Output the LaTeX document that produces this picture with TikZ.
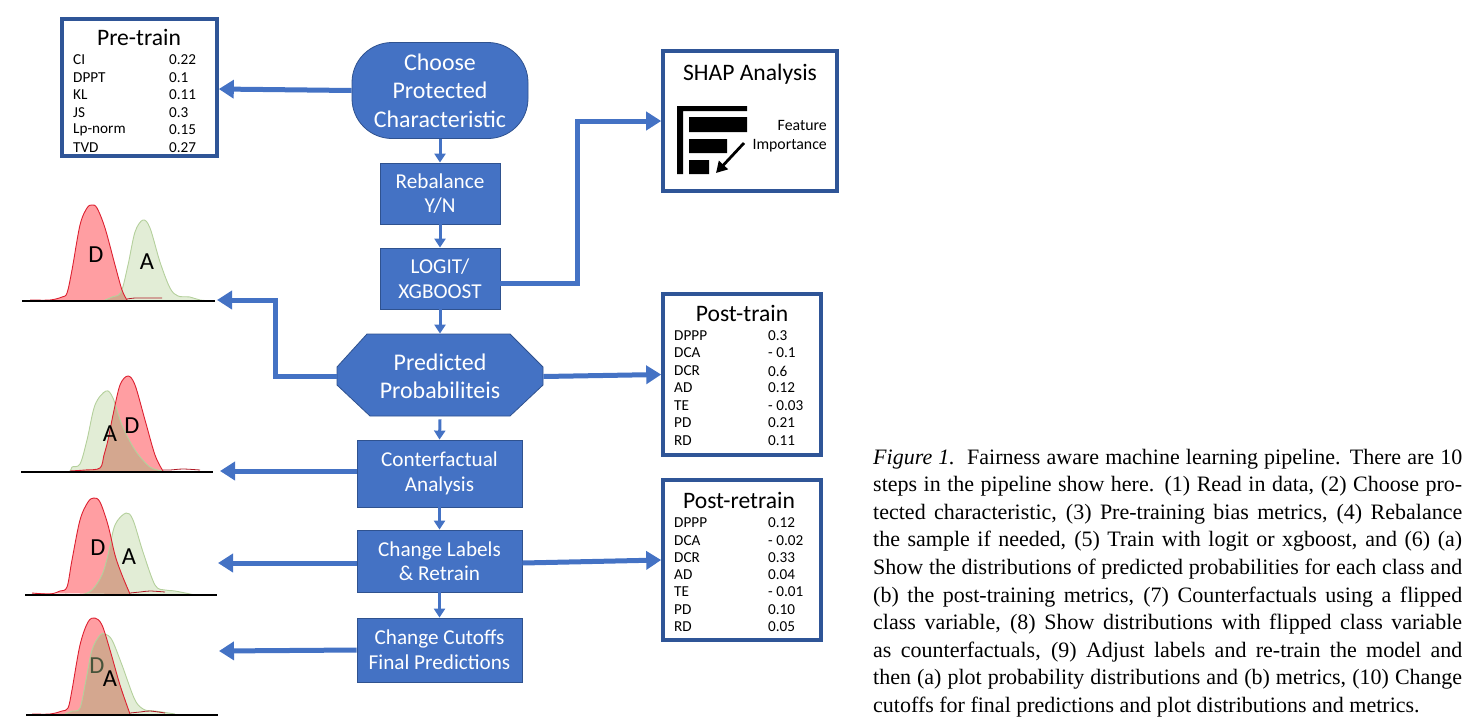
\documentclass[tikz,border=0pt]{standalone}
\usepackage{fontspec}
\setmainfont{Carlito}
\newfontfamily\capfont{Liberation Serif}
\usetikzlibrary{arrows.meta}
\definecolor{flow}{HTML}{4472C4}
\definecolor{flowedge}{HTML}{2F528F}
\definecolor{boxedge}{HTML}{2F5597}
\definecolor{redfill}{HTML}{FF9EA2}
\definecolor{redline}{HTML}{DC2030}
\definecolor{greenfill}{HTML}{E2EDD6}
\definecolor{greenline}{HTML}{B4D09C}
\definecolor{overlapfill}{HTML}{D4A78F}
\definecolor{dimD}{HTML}{46533A}
\tikzset{
  x=1pt,y=-1pt,
  flowbox/.style={rectangle,fill=flow,draw=flowedge,line width=.8pt,text=white,align=center,inner sep=0pt,font=\fontsize{21.2}{24.5}\selectfont},
  flowbig/.style={flowbox,font=\fontsize{23.9}{28.5}\selectfont},
  metricbox/.style={rectangle,draw=boxedge,line width=3.6pt,fill=white,inner sep=0pt},
  boxtitle/.style={inner sep=0pt,font=\fontsize{23.6}{25}\selectfont},
  metric/.style={anchor=west,inner sep=0pt,font=\fontsize{15.2}{16}\selectfont},
  thinarrow/.style={draw=flow,line width=3pt,-{Triangle[length=9pt,width=11pt]}},
  fatarrow/.style={draw=flow,line width=5pt,-{Triangle[length=15pt,width=18pt]}},
  redtail/.style={draw=redline!80!black,line width=.8pt},
  axisline/.style={draw=black,line width=1.8pt},
  curvelabel/.style={inner sep=0pt,font=\fontsize{24.5}{26}\selectfont},
  capline/.style={anchor=base west,inner sep=0pt,font=\capfont\fontsize{22}{24}\selectfont},
}
\newcommand{\capjust}[1]{\makebox[589pt][s]{#1}}
\newcommand{\distcurves}[2]{%
  \fill[redfill] #1;
  \fill[greenfill] #2;
  \begin{scope}\clip #1; \fill[overlapfill] #2; \end{scope}
  \draw[greenline,line width=.9pt] #2;
  \draw[redline,line width=.9pt] #1;
}
\begin{document}
\begin{tikzpicture}
\useasboundingbox (0,0) rectangle (1479,726);
% --- distributions
\distcurves{plot[smooth,tension=.55] coordinates {(30,300)(50,300)(62,297)(67,293)(72,270)(80,225)(87,208)(92,205)(97,208)(105,228)(115,265)(122,290)(127,300)}}
  {plot[smooth,tension=.55] coordinates {(105,300)(112,297)(121,292)(128,265)(135,232)(143,220)(150,228)(160,262)(170,288)(178,296)(190,297)(200,300)(215,301)}}
\draw[axisline] (22,301) -- (215,301);
\draw[redtail] plot[smooth] coordinates {(127,299)(135,298)(145,298)(162,298)};
\node[curvelabel] (d1) at (96,255) {D};
\node[curvelabel] (a1) at (147,262) {A};

\distcurves{plot[smooth,tension=.55] coordinates {(70,471)(85,470)(100,468)(104,455)(108,440)(113,415)(120,385)(128,376)(135,385)(145,420)(155,455)(163,471)}}
  {plot[smooth,tension=.55] coordinates {(45,472)(68,472)(72,467)(80,464)(87,440)(95,405)(106,391)(113,398)(122,425)(135,450)(150,467)(163,471)}}
\draw[axisline] (21,472) -- (213,472);
\draw[redtail] plot[smooth] coordinates {(163,470)(170,470)(183,469)(200,470)};
\node[curvelabel] (d2) at (132,426) {D};
\node[curvelabel] (a2) at (110,434) {A};

\distcurves{plot[smooth,tension=.55] coordinates {(32,593)(50,594)(60,591)(67,587)(72,560)(80,520)(88,502)(94,498)(100,502)(108,525)(115,555)(122,575)(130,594)}}
  {plot[smooth,tension=.55] coordinates {(65,594)(80,595)(92,590)(102,575)(108,555)(115,525)(126,513)(133,520)(143,552)(155,585)(165,590)(175,591)(195,595)}}
\draw[axisline] (25,595) -- (217,595);
\draw[redtail] plot[smooth] coordinates {(130,593)(140,592)(150,591)(165,592)};
\node[curvelabel] (d3) at (98,548) {D};
\node[curvelabel] (a3) at (129,557) {A};

\distcurves{plot[smooth,tension=.55] coordinates {(32,714)(50,714)(62,711)(68,708)(72,690)(80,645)(88,622)(95,618)(102,625)(110,650)(120,685)(130,714)}}
  {plot[smooth,tension=.55] coordinates {(65,714)(72,711)(80,708)(86,680)(92,650)(100,635)(105,634)(112,640)(122,665)(135,700)(145,710)(155,711)(175,714)}}
\draw[axisline] (26,715) -- (218,715);
\draw[redtail] plot[smooth] coordinates {(130,713)(140,712)(150,711)(165,713)};
\node[curvelabel,text=dimD] (d4) at (97,666) {D};
\node[curvelabel] (a4) at (110,679) {A};
% --- flow nodes
\node[flowbig,rounded corners=40pt,minimum width=176pt,minimum height=96pt] (choose) at (440,90.5) {Choose\\Protected\\Characteristic};
\node[flowbox,minimum width=120pt,minimum height=61pt] (rebalance) at (440,193.5) {Rebalance\\Y/N};
\node[flowbox,minimum width=120pt,minimum height=61pt] (logit) at (440,278.5) {LOGIT/\\XGBOOST};
\filldraw[fill=flow,draw=flowedge,line width=.8pt] (367,334) -- (510,334) -- (543,367) -- (543,385) -- (510,416) -- (370,416) -- (337,385) -- (337,367) -- cycle;
\node[flowbig,fill=none,draw=none,minimum width=206pt,minimum height=85pt] (pred) at (440,376.5) {Predicted\\Probabiliteis};
\node[flowbox,minimum width=165pt,minimum height=67pt] (counter) at (439.5,473.5) {Conterfactual\\Analysis};
\node[flowbox,minimum width=165pt,minimum height=62pt] (labels) at (439.5,561) {Change Labels\\\& Retrain};
\node[flowbox,minimum width=165pt,minimum height=64pt,font=\fontsize{21.2}{25}\selectfont] (cutoffs) at (439.5,650) {Change Cutoffs\\Final Predictions};
% --- metric boxes
\node[metricbox,minimum width=155pt,minimum height=137pt] (pretrain) at (139.5,87.5) {};
\node[boxtitle] (pretitle) at (139,37) {Pre-train};
\node[metric] (p1) at (73,60) {CI};      \node[metric] (pv1) at (169,60) {0.22};
\node[metric] (p2) at (73,78) {DPPT};    \node[metric] (pv2) at (169,78) {0.1};
\node[metric] (p3) at (73,95) {KL};      \node[metric] (pv3) at (169,95) {0.11};
\node[metric] (p4) at (73,113) {JS};     \node[metric] (pv4) at (169,113) {0.3};
\node[metric] (p5) at (73,130) {Lp-norm};\node[metric] (pv5) at (169,130) {0.15};
\node[metric] (p6) at (73,148) {TVD};    \node[metric] (pv6) at (169,148) {0.27};

\node[metricbox,minimum width=174pt,minimum height=140pt] (shap) at (750,121) {};
\node[boxtitle] (shaptitle) at (750,74) {SHAP Analysis};
\fill[black] (677,106) rectangle (747,111) (677,106) rectangle (683,174)
  (689,117) rectangle (747,132) (689,139) rectangle (727,153) (689,160) rectangle (709,174);
\draw[black,line width=2.8pt,-{Triangle[length=11pt,width=12pt]}] (744,143) -- (716,173);
\node[inner sep=0pt,align=right,anchor=east,font=\fontsize{15.8}{19.5}\selectfont] (feat) at (827,136) {Feature\\Importance};

\node[metricbox,minimum width=158pt,minimum height=161pt] (posttrain) at (742,374.5) {};
\node[boxtitle] (pttitle) at (742,313) {Post-train};
\node[metric] (t1) at (674,336) {DPPP}; \node[metric] (tv1) at (768,336) {0.3};
\node[metric] (t2) at (674,353) {DCA};  \node[metric] (tv2) at (768,353) {- 0.1};
\node[metric] (t3) at (674,371) {DCR};  \node[metric] (tv3) at (768,371) {0.6};
\node[metric] (t4) at (674,388) {AD};   \node[metric] (tv4) at (768,388) {0.12};
\node[metric] (t5) at (674,406) {TE};   \node[metric] (tv5) at (768,406) {- 0.03};
\node[metric] (t6) at (674,423) {PD};   \node[metric] (tv6) at (768,423) {0.21};
\node[metric] (t7) at (674,441) {RD};   \node[metric] (tv7) at (768,441) {0.11};

\node[metricbox,minimum width=158pt,minimum height=160pt] (postre) at (742,560) {};
\node[boxtitle] (prtitle) at (739,500) {Post-retrain};
\node[metric] (r1) at (674,523) {DPPP}; \node[metric] (rv1) at (768,523) {0.12};
\node[metric] (r2) at (674,541) {DCA};  \node[metric] (rv2) at (768,541) {- 0.02};
\node[metric] (r3) at (674,558) {DCR};  \node[metric] (rv3) at (768,558) {0.33};
\node[metric] (r4) at (674,575) {AD};   \node[metric] (rv4) at (768,575) {0.04};
\node[metric] (r5) at (674,592) {TE};   \node[metric] (rv5) at (768,592) {- 0.01};
\node[metric] (r6) at (674,610) {PD};   \node[metric] (rv6) at (768,610) {0.10};
\node[metric] (r7) at (674,627) {RD};   \node[metric] (rv7) at (768,627) {0.05};
% --- connector ends
\coordinate (chart1) at (217,300);
\coordinate (chart2) at (220,471);
\coordinate (chart3) at (218,563);
\coordinate (chart4) at (219,651);
\coordinate (bendshap) at (577,283);
\coordinate (bendchart) at (275,300);
% --- connectors
\draw[thinarrow] (choose.south) -- (rebalance.north);
\draw[thinarrow] (rebalance.south) -- (logit.north);
\draw[thinarrow] (logit.south) -- (pred.north);
\draw[thinarrow] (pred.south) -- (counter.north);
\draw[thinarrow] (counter.south) -- (labels.north);
\draw[thinarrow] (labels.south) -- (cutoffs.north);
\draw[fatarrow] (choose.west) -- ([yshift=-1.5pt]pretrain.east);
\draw[fatarrow] ([yshift=-4.5pt]logit.east) -- (bendshap) |- (shap.west);
\draw[fatarrow] (pred.west) -| (bendchart) -- (chart1);
\draw[fatarrow] (pred.east) -- (posttrain.west);
\draw[fatarrow] ([yshift=2.5pt]counter.west) -- (chart2);
\draw[fatarrow] ([yshift=-2pt]labels.west) -- (chart3);
\draw[fatarrow] ([yshift=-2pt]labels.east) -- (postre.west);
\draw[fatarrow] (cutoffs.west) -- (chart4);
% --- caption
\node[capline] (c1) at (873,464) {\capjust{\emph{Figure 1.}\ \ Fairness aware machine learning pipeline. There are 10}};
\node[capline] (c2) at (873,491) {\capjust{steps in the pipeline show here. (1) Read in data, (2) Choose pro-}};
\node[capline] (c3) at (873,519) {\capjust{tected characteristic, (3) Pre-training bias metrics, (4) Rebalance}};
\node[capline] (c4) at (873,546) {\capjust{the sample if needed, (5) Train with logit or xgboost, and (6) (a)}};
\node[capline] (c5) at (873,574) {\capjust{Show the distributions of predicted probabilities for each class and}};
\node[capline] (c6) at (873,602) {\capjust{(b) the post-training metrics, (7) Counterfactuals using a flipped}};
\node[capline] (c7) at (873,629) {\capjust{class variable, (8) Show distributions with flipped class variable}};
\node[capline] (c8) at (873,657) {\capjust{as counterfactuals, (9) Adjust labels and re-train the model and}};
\node[capline] (c9) at (873,684) {\capjust{then (a) plot probability distributions and (b) metrics, (10) Change}};
\node[capline] (c10) at (873,712) {cutoffs for final predictions and plot distributions and metrics.};
\end{tikzpicture}
\end{document}
